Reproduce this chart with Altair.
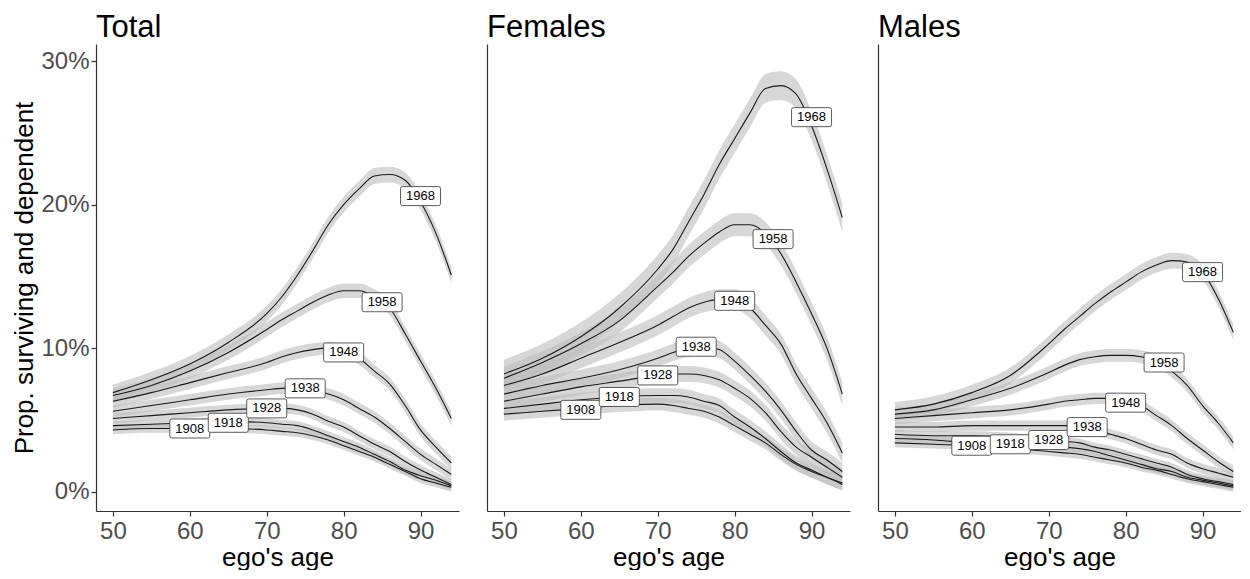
import altair as alt
import pandas as pd

ages = [50, 55, 60, 65, 70, 72, 74, 76, 78, 80, 82, 84, 86, 88, 90, 92, 94]
cohorts = [1908, 1918, 1928, 1938, 1948, 1958, 1968]

total_vals = {
    1908: [4.3, 4.4, 4.4, 4.4, 4.3, 4.2, 4.1, 3.9, 3.6, 3.2, 2.8, 2.4, 1.9, 1.4, 0.9, 0.6, 0.3],
    1918: [4.6, 4.7, 4.8, 4.9, 4.8, 4.7, 4.6, 4.3, 3.9, 3.5, 3.1, 2.6, 2.1, 1.5, 1.1, 0.8, 0.4],
    1928: [5.1, 5.3, 5.5, 5.7, 5.8, 5.8, 5.7, 5.4, 4.9, 4.5, 3.9, 3.3, 2.8, 2.1, 1.5, 1.0, 0.5],
    1938: [5.6, 6.0, 6.4, 6.8, 7.1, 7.2, 7.2, 7.1, 6.8, 6.4, 5.8, 5.2, 4.4, 3.5, 2.6, 1.9, 1.2],
    1948: [6.3, 6.9, 7.6, 8.3, 9.0, 9.4, 9.7, 9.9, 10.0, 9.8, 9.3, 8.4, 7.5, 6.0, 4.3, 3.1, 2.0],
    1958: [6.7, 7.4, 8.4, 9.7, 11.3, 12.0, 12.6, 13.2, 13.7, 14.0, 14.0, 13.6, 12.8, 11.0, 9.1, 7.2, 5.1],
    1968: [6.9, 7.8, 8.9, 10.4, 12.4, 13.6, 15.1, 16.8, 18.6, 20.0, 21.1, 22.0, 22.1, 21.7, 20.2, 18.0, 15.1],
}
females_vals = {
    1908: [5.4, 5.6, 5.8, 6.0, 6.1, 6.0, 5.8, 5.6, 5.2, 4.6, 4.0, 3.4, 2.6, 1.9, 1.4, 1.0, 0.5],
    1918: [5.8, 6.1, 6.4, 6.6, 6.7, 6.7, 6.6, 6.3, 6.0, 5.2, 4.5, 3.7, 2.8, 2.0, 1.5, 1.0, 0.6],
    1928: [6.3, 6.8, 7.3, 7.7, 8.1, 8.2, 8.2, 8.1, 7.8, 7.2, 6.5, 5.5, 4.2, 3.1, 2.4, 1.7, 1.0],
    1938: [6.8, 7.4, 7.9, 8.5, 9.3, 9.7, 10.0, 10.1, 9.9, 9.1, 8.1, 7.0, 5.7, 4.2, 2.9, 2.2, 1.4],
    1948: [7.4, 8.2, 9.3, 10.4, 11.6, 12.2, 12.8, 13.2, 13.4, 13.4, 12.8, 11.6, 10.3, 8.2, 6.5, 4.8, 2.7],
    1958: [7.9, 9.0, 10.3, 11.9, 14.3, 15.3, 16.4, 17.3, 18.1, 18.6, 18.6, 18.0, 16.6, 14.6, 12.4, 10.0, 6.8],
    1968: [8.2, 9.3, 10.8, 12.8, 15.5, 16.9, 18.8, 20.7, 22.8, 24.6, 26.4, 28.1, 28.3, 27.7, 25.5, 22.5, 19.1],
}
males_vals = {
    1908: [3.4, 3.3, 3.2, 3.0, 2.8, 2.7, 2.6, 2.4, 2.2, 2.0, 1.7, 1.5, 1.2, 0.9, 0.7, 0.5, 0.3],
    1918: [3.7, 3.6, 3.4, 3.3, 3.2, 3.1, 3.0, 2.8, 2.5, 2.2, 1.9, 1.6, 1.4, 1.0, 0.8, 0.6, 0.4],
    1928: [4.0, 3.9, 3.9, 3.8, 3.6, 3.5, 3.4, 3.1, 2.9, 2.6, 2.3, 2.0, 1.7, 1.2, 0.9, 0.7, 0.5],
    1938: [4.5, 4.5, 4.6, 4.6, 4.6, 4.6, 4.6, 4.3, 4.0, 3.7, 3.3, 2.9, 2.6, 2.0, 1.6, 1.3, 1.0],
    1948: [5.1, 5.3, 5.5, 5.7, 6.1, 6.3, 6.4, 6.5, 6.5, 6.4, 6.0, 5.3, 4.6, 3.7, 2.9, 2.1, 1.4],
    1958: [5.4, 5.7, 6.4, 7.2, 8.3, 8.8, 9.2, 9.4, 9.5, 9.5, 9.4, 9.1, 8.4, 7.4, 6.0, 4.8, 3.4],
    1968: [5.7, 6.1, 6.9, 8.1, 10.3, 11.3, 12.2, 13.1, 13.9, 14.6, 15.3, 15.8, 16.1, 16.0, 15.3, 13.5, 11.1],
}

# ribbon half-widths (percentage points), one per cohort
total_hw = [0.3, 0.3, 0.35, 0.4, 0.45, 0.5, 0.55]
females_hw = [0.45, 0.5, 0.55, 0.6, 0.7, 0.8, 1.0]
males_hw = [0.3, 0.3, 0.3, 0.35, 0.4, 0.45, 0.55]

label_ages = [60, 65, 70, 75, 80, 85, 90]
total_label_y = [4.4, 4.8, 5.8, 7.2, 9.7, 13.2, 20.6]
females_label_y = [5.7, 6.6, 8.1, 10.1, 13.3, 17.6, 26.1]
males_label_y = [3.2, 3.3, 3.6, 4.5, 6.2, 9.0, 15.3]

x_ticks = [50, 60, 70, 80, 90]
y_ticks = [0, 10, 20, 30]

FONT = "Liberation Sans"
BOX = ("M-0.9,-0.475 L0.9,-0.475 Q1,-0.475 1,-0.375 L1,0.375 Q1,0.475 0.9,0.475 "
       "L-0.9,0.475 Q-1,0.475 -1,0.375 L-1,-0.375 Q-1,-0.475 -0.9,-0.475 Z")

xscale = alt.Scale(domain=[47.8, 95.0], nice=False, zero=False)
yscale = alt.Scale(domain=[-1.35, 31.2], nice=False, zero=False)

AX = dict(labelFont=FONT, titleFont=FONT, labelFontSize=24, titleFontSize=26,
          labelColor="#4d4d4d", titleColor="black", titleFontWeight="normal",
          domainColor="#333333", domainWidth=1.2, tickColor="#333333", tickSize=5,
          tickWidth=1.2, grid=False)


def panel(name, vals, hw, lab_y, first):
    rows = []
    for c, h in zip(cohorts, hw):
        for a, v in zip(ages, vals[c]):
            rows.append({"age": a, "value": v, "lo": v - h, "hi": v + h, "cohort": str(c)})
    df = pd.DataFrame(rows)
    lab = pd.DataFrame({"age": label_ages, "value": lab_y, "cohort": [str(c) for c in cohorts]})

    xax = alt.Axis(values=x_ticks, title="ego's age", titlePadding=1, labelPadding=3, **AX)
    if first:
        yax = alt.Axis(values=y_ticks, labelExpr="datum.value + '%'", labelPadding=2,
                       title="Prop. surviving and dependent", titlePadding=3, **AX)
    else:
        yax = alt.Axis(values=y_ticks, labels=False, ticks=False, title=None, **AX)

    x = alt.X("age:Q", scale=xscale, axis=xax)

    band = alt.Chart(df).mark_area(color="#bdbdbd", opacity=0.6, interpolate="monotone").encode(
        x=x, y=alt.Y("lo:Q", scale=yscale, axis=yax), y2="hi:Q", detail="cohort:N"
    )
    line = alt.Chart(df).mark_line(color="#1a1a1a", strokeWidth=1.1, interpolate="monotone").encode(
        x=x, y=alt.Y("value:Q", scale=yscale, axis=yax), detail="cohort:N"
    )
    box = alt.Chart(lab).mark_point(
        shape=BOX, size=1600, filled=True, fill="white", stroke="#333333",
        strokeWidth=0.8, opacity=1
    ).encode(x=x, y=alt.Y("value:Q", scale=yscale, axis=yax))
    txt = alt.Chart(lab).mark_text(font=FONT, fontSize=13, color="black", baseline="middle").encode(
        x=x, y=alt.Y("value:Q", scale=yscale, axis=yax), text="cohort:N"
    )
    return alt.layer(band, line, box, txt).properties(
        width=363, height=467,
        title=alt.TitleParams(name, anchor="start", frame="group", fontSize=31, font=FONT,
                              fontWeight="normal", color="black", offset=0),
    )


chart = alt.hconcat(
    panel("Total", total_vals, total_hw, total_label_y, True),
    panel("Females", females_vals, females_hw, females_label_y, False),
    panel("Males", males_vals, males_hw, males_label_y, False),
    spacing=28,
).configure_view(stroke=None).properties(
    padding={"left": 3, "right": 0, "top": 4, "bottom": 0}
)

chart.save("out.html", embed_options={"renderer": "svg", "actions": False})
